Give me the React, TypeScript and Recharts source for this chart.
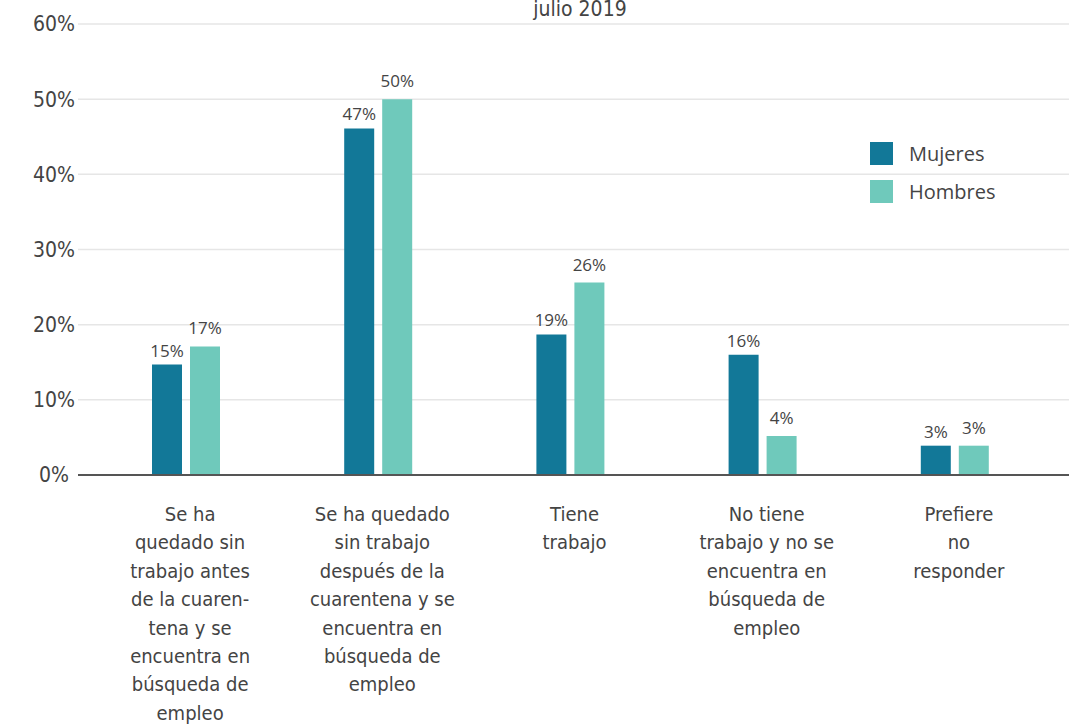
import { BarChart, Bar, XAxis, YAxis, CartesianGrid, LabelList } from "recharts";

const categories: string[][] = [
  ["Se ha", "quedado sin", "trabajo antes", "de la cuaren-", "tena y se", "encuentra en", "búsqueda de", "empleo"],
  ["Se ha quedado", "sin trabajo", "después de la", "cuarentena y se", "encuentra en", "búsqueda de", "empleo"],
  ["Tiene", "trabajo"],
  ["No tiene", "trabajo y no se", "encuentra en", "búsqueda de", "empleo"],
  ["Prefiere", "no", "responder"],
];
const mujeres = [14.7, 46.1, 18.7, 16.0, 3.9];
const hombres = [17.1, 50.0, 25.6, 5.2, 3.9];
const mujeresLabels = ["15%", "47%", "19%", "16%", "3%"];
const hombresLabels = ["17%", "50%", "26%", "4%", "3%"];
const yTicks = [0, 10, 20, 30, 40, 50, 60];

const data = categories.map((lines, i) => ({
  key: String(i),
  lines,
  mujeres: mujeres[i],
  hombres: hombres[i],
  mLabel: mujeresLabels[i],
  hLabel: hombresLabels[i],
}));

const condensed = "'Liberation Sans Narrow', 'DejaVu Sans Condensed', 'Noto Sans', sans-serif";
const textColor = "#444";

function CategoryTick(props: any) {
  const { x, y, payload } = props;
  const lines = categories[Number(payload.value)] || [];
  return (
    <text x={x} y={y} textAnchor="middle" fill={textColor} fontSize={20} fontFamily={condensed}>
      {lines.map((l, i) => (
        <tspan key={i} x={x + 4} dy={i === 0 ? 38 : 28.4}>
          {l}
        </tspan>
      ))}
    </text>
  );
}

const legendItems = [
  { name: "Mujeres", color: "#127898" },
  { name: "Hombres", color: "#6fc9bb" },
];

export default function App() {
  return (
    <div style={{ position: "absolute", left: 0, top: 0, width: 1069, height: 726, background: "#fff", overflow: "hidden" }}>
      <div
        style={{
          position: "absolute",
          top: -3,
          left: 0,
          width: 1160,
          textAlign: "center",
          fontFamily: condensed,
          fontSize: 21,
          color: textColor,
        }}
      >
        julio 2019
      </div>
      <BarChart
        width={1069}
        height={726}
        data={data}
        margin={{ top: 24, right: 0, bottom: 221, left: 0 }}
        barSize={30}
        barGap={8}
      >
        <CartesianGrid vertical={false} stroke="#e6e6e6" strokeWidth={1.5} />
        <XAxis
          dataKey="key"
          height={30}
          tick={<CategoryTick />}
          tickLine={false}
          axisLine={{ stroke: "#555", strokeWidth: 2 }}
          padding={{ left: 12, right: 18 }}
          interval={0}
        />
        <YAxis
          domain={[0, 60]}
          ticks={yTicks}
          width={78}
          axisLine={false}
          tickLine={false}
          tickFormatter={(v) => `${v}%`}
          tick={{ fill: textColor, fontSize: 21, fontFamily: condensed, textAnchor: "middle", dx: -16 }}
        />
        <Bar dataKey="mujeres" name="Mujeres" fill="#127898" isAnimationActive={false}>
          <LabelList dataKey="mLabel" position="top" offset={8} fill={textColor} fontSize={17} fontFamily="'Open Sans', sans-serif" />
        </Bar>
        <Bar dataKey="hombres" name="Hombres" fill="#6fc9bb" isAnimationActive={false}>
          <LabelList dataKey="hLabel" position="top" offset={12} fill={textColor} fontSize={17} fontFamily="'Open Sans', sans-serif" />
        </Bar>
      </BarChart>
      <div
        style={{
          position: "absolute",
          top: 134,
          left: 870,
          fontFamily: "'Open Sans', sans-serif",
          fontSize: 20,
          color: textColor,
        }}
      >
        {legendItems.map((it) => (
          <div key={it.name} style={{ display: "flex", alignItems: "center", height: 38 }}>
            <span style={{ width: 23, height: 23, background: it.color, display: "inline-block", marginRight: 16 }} />
            {it.name}
          </div>
        ))}
      </div>
    </div>
  );
}
